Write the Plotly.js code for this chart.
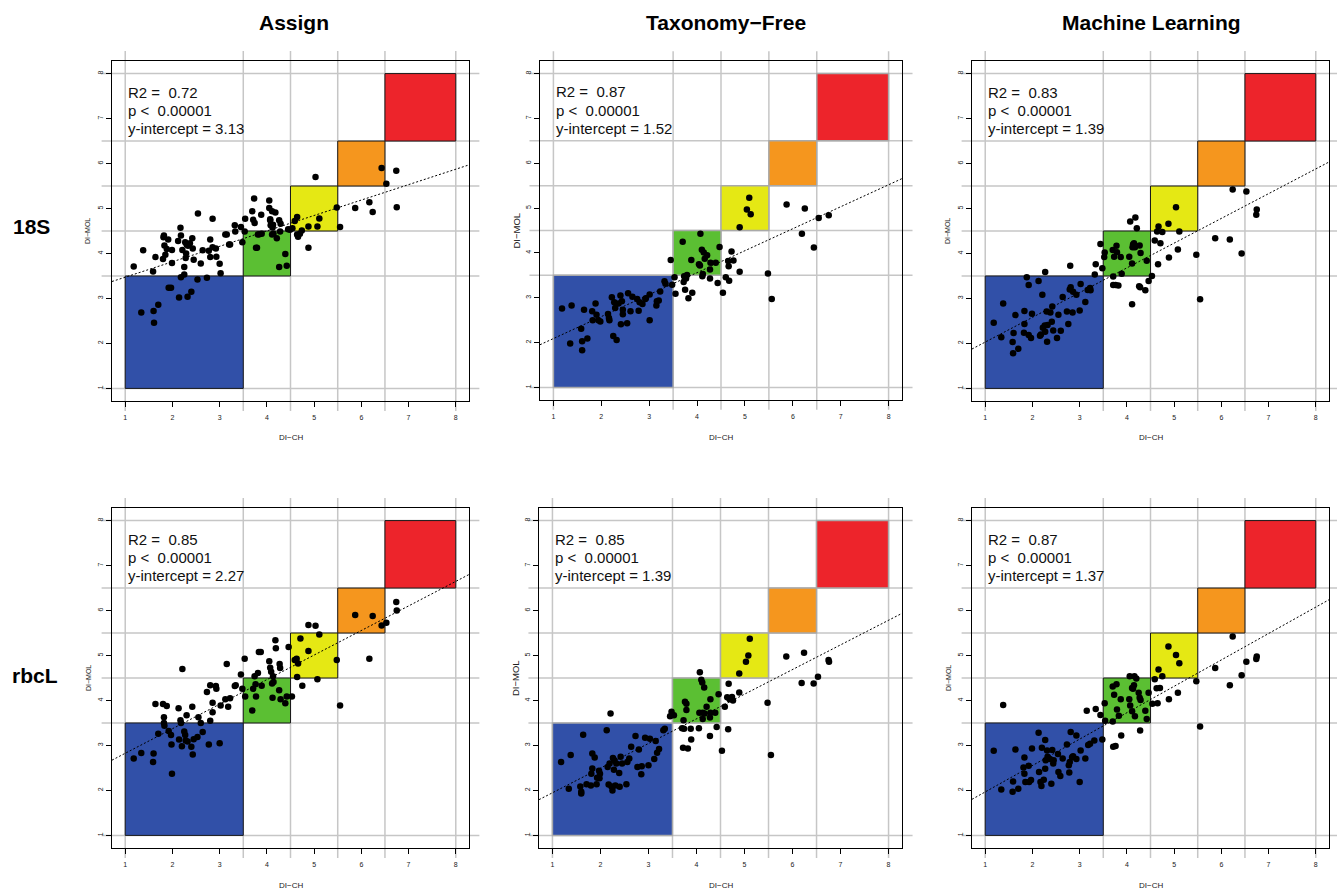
<!DOCTYPE html>
<html><head><meta charset="utf-8">
<script src="https://cdn.plot.ly/plotly-3.0.1.min.js"></script>
<style>html,body{margin:0;padding:0;background:#fff}#chart{width:1337px;height:890px}</style>
</head><body><div id="chart"></div>
<script>
// ---------- data ----------
const METHODS = ['Assign', 'Taxonomy\u2212Free', 'Machine Learning'];
const MARKERS = ['18S', 'rbcL'];
const TICKS = [1, 2, 3, 4, 5, 6, 7, 8];
const GRID_BREAKS = [1, 3.5, 4.5, 5.5, 6.5, 8];
const CLASS_LOW = [1, 3.5, 4.5, 5.5, 6.5];
const CLASS_HIGH = [3.5, 4.5, 5.5, 6.5, 8];
const R2_TEXT = ['0.72', '0.87', '0.83', '0.85', '0.85', '0.87'];
const P_TEXT = ['0.00001', '0.00001', '0.00001', '0.00001', '0.00001', '0.00001'];
const INTERCEPT_TEXT = ['3.13', '1.52', '1.39', '2.27', '1.39', '1.37'];
const FIT_INTERCEPT = [3.13, 1.60, 1.48, 2.28, 1.40, 1.38];
const FIT_SLOPE = [0.343, 0.49, 0.55, 0.546, 0.548, 0.587];

const assign18S = [[1.18,3.71],[1.38,4.07],[1.59,3.60],[1.64,3.92],[1.80,3.88],[1.81,4.36],[1.82,4.40],[1.83,4.18],[1.85,3.97],[1.88,4.10],[1.91,4.31],[1.99,4.08],[1.99,3.79],[2.12,4.28],[2.17,4.57],[2.18,4.40],[2.21,4.08],[2.25,3.70],[2.27,4.25],[2.28,3.90],[2.29,4.00],[2.30,4.20],[2.33,4.17],[2.37,4.23],[2.42,4.34],[2.43,4.11],[2.45,3.86],[2.54,4.89],[2.60,3.78],[2.64,4.07],[2.77,4.06],[2.80,4.31],[2.80,3.92],[2.85,4.77],[2.85,4.14],[2.92,4.11],[2.93,3.93],[3.00,3.77],[3.02,3.56],[3.12,4.42],[3.15,4.42],[3.20,4.20],[3.22,4.20],[3.32,4.63],[3.33,4.49],[3.45,4.59],[3.48,4.25],[3.53,4.49],[3.54,4.77],[2.18,3.47],[2.25,3.53],[2.53,3.42],[2.73,3.46],[1.34,2.69],[1.60,2.72],[1.61,2.46],[1.70,2.86],[1.92,3.24],[1.97,3.24],[2.14,3.02],[2.32,3.04],[2.40,3.15],[3.69,4.94],[3.71,4.75],[3.73,5.22],[3.74,4.68],[3.77,4.13],[3.79,4.13],[3.81,4.42],[3.84,4.43],[3.89,4.44],[3.88,4.86],[4.05,5.18],[4.05,5.01],[4.07,4.76],[4.07,4.74],[4.08,4.63],[4.11,4.94],[4.11,4.42],[4.12,4.58],[4.13,4.64],[4.14,4.44],[4.18,4.91],[4.21,4.34],[4.26,3.70],[4.26,4.74],[4.28,4.49],[4.29,4.66],[4.39,3.99],[4.42,3.73],[4.45,4.54],[4.49,4.53],[4.54,4.56],[4.59,4.72],[4.64,4.81],[4.64,4.42],[4.66,4.37],[4.70,4.44],[4.74,4.51],[4.88,4.13],[4.88,4.60],[5.03,5.70],[5.07,4.60],[5.11,4.78],[5.48,5.02],[5.55,4.59],[5.87,5.01],[6.17,5.14],[6.24,4.92],[6.43,5.90],[6.53,5.55],[6.74,5.84],[6.75,5.03]];

const taxFree18S = [[1.18,2.76],[1.35,1.98],[1.38,2.83],[1.58,2.31],[1.60,2.03],[1.60,1.83],[1.64,2.73],[1.71,2.09],[1.81,2.70],[1.82,2.50],[1.88,2.87],[1.90,2.62],[1.94,2.50],[1.98,2.47],[2.14,2.64],[2.16,2.55],[2.17,2.50],[2.22,3.01],[2.25,2.15],[2.27,2.90],[2.29,2.77],[2.32,2.06],[2.36,2.87],[2.40,3.05],[2.41,2.41],[2.43,2.92],[2.45,2.73],[2.45,2.63],[2.54,2.43],[2.56,3.10],[2.61,2.70],[2.65,3.02],[2.75,2.97],[2.78,2.71],[2.80,2.90],[2.86,2.86],[2.92,2.97],[2.93,2.99],[3.01,3.07],[3.01,2.50],[3.15,2.83],[3.16,2.92],[3.20,2.94],[3.23,3.14],[3.32,3.37],[3.34,3.31],[3.45,3.84],[3.48,3.29],[3.53,3.46],[3.55,3.09],[3.70,4.25],[3.72,3.35],[3.73,3.48],[3.75,3.18],[3.77,3.43],[3.79,3.51],[3.82,2.99],[3.88,3.84],[3.90,3.11],[4.07,4.43],[4.04,3.75],[4.06,3.72],[4.10,4.07],[4.11,3.48],[4.12,3.53],[4.14,4.01],[4.16,3.87],[4.21,3.95],[4.27,3.43],[4.27,3.63],[4.28,3.78],[4.39,3.78],[4.43,3.33],[4.47,4.13],[4.54,3.11],[4.60,3.46],[4.65,3.82],[4.66,3.70],[4.67,3.38],[4.72,4.03],[4.76,3.83],[4.89,3.58],[4.89,4.57],[5.04,4.97],[5.09,5.23],[5.12,4.86],[5.48,3.54],[5.56,2.97],[5.87,5.08],[6.19,4.43],[6.25,4.99],[6.44,4.12],[6.54,4.78],[6.75,4.84]];

const ml18S = [[1.18,2.46],[1.34,2.14],[1.38,2.89],[1.58,2.03],[1.60,2.23],[1.64,2.63],[1.70,1.88],[1.59,1.78],[1.82,2.24],[1.83,2.43],[1.83,2.72],[1.88,3.47],[1.92,3.30],[1.92,2.19],[1.97,2.12],[1.99,2.66],[2.13,3.39],[2.16,2.17],[2.18,2.20],[2.21,3.08],[2.22,2.35],[2.26,2.40],[2.27,2.26],[2.27,3.59],[2.30,2.71],[2.31,2.04],[2.32,2.41],[2.38,2.69],[2.41,2.48],[2.42,2.82],[2.44,2.29],[2.52,2.12],[2.55,2.64],[2.60,2.28],[2.64,3.03],[2.73,2.71],[2.76,2.43],[2.79,3.20],[2.80,3.73],[2.81,3.25],[2.85,2.69],[2.86,3.15],[2.93,3.08],[3.00,2.73],[3.02,3.32],[3.12,2.92],[3.17,3.19],[3.22,3.23],[3.23,3.18],[3.32,3.53],[3.34,3.76],[3.44,4.21],[3.48,3.67],[3.52,3.92],[3.53,4.02],[3.71,3.49],[3.71,3.30],[3.70,4.08],[3.73,3.93],[3.76,3.30],[3.78,4.17],[3.79,4.03],[3.82,3.29],[3.87,3.92],[3.89,3.55],[4.05,3.93],[4.07,4.71],[4.11,2.87],[4.11,3.78],[4.12,4.14],[4.13,4.20],[4.15,4.23],[4.17,4.14],[4.18,4.80],[4.21,4.56],[4.26,3.27],[4.27,4.18],[4.28,3.25],[4.29,4.01],[4.39,3.18],[4.42,3.84],[4.46,3.39],[4.53,3.50],[4.59,4.29],[4.64,4.49],[4.66,3.76],[4.67,4.60],[4.71,4.23],[4.75,4.48],[4.88,4.66],[4.89,3.91],[5.04,5.03],[5.08,4.09],[5.11,4.49],[5.47,3.97],[5.55,2.98],[5.87,4.34],[6.18,4.31],[6.24,5.42],[6.43,4.00],[6.53,5.38],[6.74,4.86],[6.75,4.98]];

const assignRbcL = [[1.18,2.71],[1.34,2.83],[1.60,2.82],[1.59,2.63],[1.64,3.92],[1.70,3.26],[1.80,3.92],[1.82,3.63],[1.82,3.50],[1.83,3.44],[1.88,3.88],[1.92,3.32],[1.97,3.23],[1.98,3.02],[1.99,2.37],[2.13,3.83],[2.14,3.13],[2.17,3.56],[2.18,3.50],[2.20,2.98],[2.21,4.70],[2.25,3.31],[2.27,3.23],[2.28,3.11],[2.30,3.67],[2.32,3.09],[2.40,2.97],[2.42,3.86],[2.43,2.80],[2.45,3.14],[2.53,3.19],[2.55,3.63],[2.60,3.50],[2.64,3.30],[2.73,4.19],[2.77,3.02],[2.80,4.34],[2.80,3.55],[2.85,3.74],[2.85,3.95],[2.92,4.32],[2.93,4.26],[3.00,3.05],[3.02,3.89],[3.12,4.03],[3.15,4.81],[3.18,3.86],[3.22,4.05],[3.32,4.32],[3.34,4.34],[3.45,4.58],[3.48,4.26],[3.53,4.93],[3.54,4.09],[3.69,3.78],[3.71,4.26],[3.74,4.54],[3.76,4.36],[3.77,4.09],[3.81,4.61],[3.83,5.08],[3.87,5.08],[3.89,4.33],[4.05,4.87],[4.07,4.73],[4.09,4.64],[4.11,4.38],[4.12,4.06],[4.13,4.54],[4.14,4.41],[4.18,5.34],[4.19,5.16],[4.26,4.23],[4.27,4.81],[4.28,4.72],[4.29,4.03],[4.39,3.94],[4.42,4.09],[4.46,5.19],[4.53,4.09],[4.59,4.90],[4.63,4.93],[4.64,4.52],[4.66,4.82],[4.71,5.38],[4.75,4.33],[4.88,5.68],[4.88,5.10],[5.03,5.66],[5.07,4.47],[5.11,5.47],[5.48,4.90],[5.55,3.89],[5.87,5.90],[6.17,4.93],[6.24,5.88],[6.43,5.67],[6.53,5.73],[6.74,6.19],[6.75,6.00]];

const taxFreeRbcL = [[1.18,2.63],[1.34,2.04],[1.38,2.79],[1.58,2.09],[1.60,1.97],[1.60,1.93],[1.64,3.24],[1.71,2.14],[1.80,2.11],[1.83,2.49],[1.81,2.37],[1.83,2.82],[1.88,2.73],[1.92,2.14],[1.93,2.28],[1.97,2.44],[1.98,2.27],[1.99,2.37],[2.13,3.34],[2.15,2.52],[2.17,2.13],[2.19,2.60],[2.21,3.71],[2.23,2.09],[2.25,2.00],[2.26,2.72],[2.28,2.46],[2.29,2.67],[2.31,2.11],[2.33,2.60],[2.39,2.39],[2.40,2.08],[2.42,2.75],[2.45,2.60],[2.54,2.14],[2.56,2.63],[2.60,2.71],[2.64,2.97],[2.73,3.21],[2.77,2.52],[2.80,2.91],[2.85,2.36],[2.86,2.54],[2.93,3.17],[3.00,2.56],[3.03,3.15],[3.12,2.70],[3.15,3.10],[3.18,2.84],[3.22,2.92],[3.31,3.34],[3.34,3.37],[3.45,3.65],[3.48,3.75],[3.53,3.67],[3.70,3.38],[3.72,2.95],[3.74,3.37],[3.73,3.56],[3.76,3.97],[3.79,3.93],[3.79,3.79],[3.82,2.93],[3.88,3.37],[3.89,3.13],[4.05,3.38],[4.06,3.73],[4.07,4.63],[4.10,4.46],[4.12,4.40],[4.13,3.73],[4.13,3.59],[4.16,4.29],[4.17,3.71],[4.21,3.86],[4.28,3.62],[4.28,3.21],[4.29,3.73],[4.29,4.03],[4.39,3.73],[4.42,3.41],[4.46,4.14],[4.53,2.88],[4.59,3.86],[4.64,4.07],[4.66,3.36],[4.67,4.37],[4.69,4.03],[4.74,4.08],[4.76,4.00],[4.89,4.18],[4.89,4.60],[5.03,4.86],[5.08,5.00],[5.11,5.37],[5.48,3.95],[5.55,2.79],[5.87,4.98],[6.19,4.39],[6.24,5.06],[6.44,4.38],[6.53,4.53],[6.75,4.90],[6.76,4.86]];

const mlRbcL = [[1.18,2.88],[1.34,2.02],[1.38,3.90],[1.58,1.97],[1.59,2.20],[1.64,2.91],[1.70,2.04],[1.81,2.51],[1.83,2.73],[1.83,2.37],[1.85,2.19],[1.92,2.55],[1.93,2.19],[1.97,2.23],[1.99,2.93],[2.13,3.28],[2.14,2.41],[2.17,2.19],[2.19,2.10],[2.20,2.95],[2.24,2.24],[2.27,3.12],[2.27,2.48],[2.28,2.67],[2.31,2.89],[2.32,2.75],[2.37,2.70],[2.40,2.15],[2.42,2.90],[2.44,2.60],[2.45,2.67],[2.54,2.81],[2.55,2.41],[2.59,2.32],[2.64,2.71],[2.73,3.02],[2.77,2.56],[2.78,2.40],[2.79,2.63],[2.81,3.30],[2.84,2.74],[2.86,2.76],[2.93,3.22],[2.93,2.70],[3.00,2.19],[3.02,2.89],[3.12,2.71],[3.15,3.77],[3.18,3.01],[3.22,3.04],[3.31,3.11],[3.34,3.81],[3.44,3.68],[3.48,3.13],[3.53,3.94],[3.54,3.55],[3.70,3.53],[3.70,4.31],[3.71,2.97],[3.73,4.13],[3.76,2.99],[3.78,4.36],[3.79,3.80],[3.83,3.66],[3.87,4.03],[3.88,3.22],[4.05,4.03],[4.06,4.54],[4.07,3.89],[4.11,4.28],[4.11,3.76],[4.13,4.26],[4.15,4.34],[4.16,4.54],[4.17,3.65],[4.20,4.49],[4.25,4.17],[4.27,4.06],[4.28,3.33],[4.29,4.01],[4.39,3.77],[4.42,3.59],[4.46,4.17],[4.54,3.93],[4.59,4.47],[4.63,4.27],[4.65,3.94],[4.67,4.69],[4.70,4.28],[4.75,4.54],[4.88,5.20],[4.89,4.03],[5.04,5.01],[5.08,4.17],[5.11,4.83],[5.47,4.43],[5.55,3.42],[5.87,4.72],[6.18,4.34],[6.24,5.42],[6.43,4.56],[6.53,4.86],[6.74,4.92],[6.75,4.98]];

const PANEL_DATA = [assign18S, taxFree18S, ml18S, assignRbcL, taxFreeRbcL, mlRbcL];

// ---------- layout / style ----------
const W = 1337, H = 890;
const FRAMES = [[112,469,61,401],[540,902,61,400],[972,1329,61,401],[112,469,508,848],[539,902,508,848],[972,1329,508,848]];
const RANGE = [0.72, 8.28];
const GRID_EXT = [0.5, 8.5];
const BOX_COLORS = ['#3150a8', '#5bbf33', '#e5e814', '#f5961e', '#ed242b'];
const GRID_COLOR = '#c6c6c6';
const FONT = 'Liberation Sans, Arial, Helvetica, sans-serif';
const NARROW = 'Liberation Sans Narrow, Liberation Sans, Arial, sans-serif';
const COL_TITLE_X = [294, 726, 1151];
const ROW_TITLE = [[31, 226], [35, 675]];
const TEXT_Y = [7.59, 7.18, 6.77];

const layout = {
  width: W, height: H, margin: {l:0, r:0, t:0, b:0},
  paper_bgcolor: '#ffffff', plot_bgcolor: 'rgba(0,0,0,0)',
  showlegend: false, font: {family: FONT, color: '#000'},
  shapes: [], annotations: []
};
const traces = [];

FRAMES.forEach((f, i) => {
  const n = i + 1, s = n === 1 ? '' : String(n);
  const xr = 'x' + s, yr = 'y' + s;
  const middle = (i % 3) === 1;
  const common = {
    range: RANGE, tickvals: TICKS, ticktext: TICKS.map(String), ticks: 'outside',
    ticklen: 5, tickwidth: 1, tickcolor: '#000', showline: true, mirror: true,
    linecolor: '#000', linewidth: 1.2, showgrid: false, zeroline: false,
    tickfont: {size: 7, color: '#222', family: NARROW}, fixedrange: true
  };
  layout['xaxis' + s] = Object.assign({}, common, {domain: [f[0]/W, f[1]/W], anchor: yr, ticklabelstandoff: 4});
  layout['yaxis' + s] = Object.assign({}, common, {domain: [1 - f[3]/H, 1 - f[2]/H], anchor: xr, tickangle: -90});

  const fx = v => (f[0] + (v - RANGE[0]) / (RANGE[1] - RANGE[0]) * (f[1] - f[0])) / W;
  const fy = v => 1 - (f[3] - (v - RANGE[0]) / (RANGE[1] - RANGE[0]) * (f[3] - f[2])) / H;

  // extended reference grid (drawn past the frame, like the original)
  GRID_BREAKS.forEach(g => {
    layout.shapes.push({type:'line', xref:'paper', yref:'paper', layer:'below',
      x0: fx(g), x1: fx(g), y0: fy(GRID_EXT[0]), y1: fy(GRID_EXT[1]),
      line: {color: GRID_COLOR, width: 1.5}});
    layout.shapes.push({type:'line', xref:'paper', yref:'paper', layer:'below',
      x0: fx(GRID_EXT[0]), x1: fx(GRID_EXT[1]), y0: fy(g), y1: fy(g),
      line: {color: GRID_COLOR, width: 1.5}});
  });

  // classification boxes
  CLASS_LOW.forEach((lo, k) => {
    layout.shapes.push({type:'rect', xref: xr, yref: yr, layer:'below',
      x0: lo, x1: CLASS_HIGH[k], y0: lo, y1: CLASS_HIGH[k],
      fillcolor: BOX_COLORS[k],
      line: middle ? {color: '#a9a9a9', width: 1.5} : {color: '#1a1a1a', width: 1}});
  });

  // regression line
  traces.push({type:'scatter', mode:'lines', xaxis: xr, yaxis: yr, hoverinfo:'skip',
    x: RANGE.slice(), y: RANGE.map(v => FIT_INTERCEPT[i] + FIT_SLOPE[i] * v),
    line: {color:'#000', width: 1, dash: '2px,2px'}});

  // points
  const pts = PANEL_DATA[i];
  traces.push({type:'scatter', mode:'markers', xaxis: xr, yaxis: yr,
    x: pts.map(p => p[0]), y: pts.map(p => p[1]),
    marker: {color:'#000', size: 6.5, line: {width: 0}}});

  // stats text
  const lines = ['R2 = \u00a0' + R2_TEXT[i], 'p < \u00a0' + P_TEXT[i], 'y-intercept = ' + INTERCEPT_TEXT[i]];
  lines.forEach((t, k) => {
    layout.annotations.push({xref: xr, yref: yr, x: 1.02, y: TEXT_Y[k], text: t,
      xanchor: 'left', yanchor: 'middle', showarrow: false,
      font: {size: 15, family: FONT, color: '#111'}});
  });

  // axis titles
  layout.annotations.push({xref: xr + ' domain', yref: yr + ' domain', x: 0.5, y: 0, yshift: -37,
    text: 'DI\u2212CH', showarrow: false, xanchor: 'center', yanchor: 'middle',
    font: {size: 8, family: NARROW, color: '#222'}});
  layout.annotations.push({xref: xr + ' domain', yref: yr + ' domain', x: 0, y: 0.5, xshift: -24,
    text: 'DI\u2212MOL', textangle: -90, showarrow: false, xanchor: 'center', yanchor: 'middle',
    font: {size: middle ? 9.5 : 7, family: NARROW, color: '#222'}});
});

METHODS.forEach((m, j) => {
  layout.annotations.push({xref:'paper', yref:'paper', x: COL_TITLE_X[j]/W, y: 1 - 22/H, text: '<b>' + m + '</b>',
    showarrow: false, xanchor:'center', yanchor:'middle', font: {size: 21, family: FONT, color:'#000'}});
});
MARKERS.forEach((m, j) => {
  layout.annotations.push({xref:'paper', yref:'paper', x: ROW_TITLE[j][0]/W, y: 1 - ROW_TITLE[j][1]/H, text: '<b>' + m + '</b>',
    showarrow: false, xanchor:'center', yanchor:'middle', font: {size: 21, family: FONT, color:'#000'}});
});

Plotly.newPlot('chart', traces, layout, {staticPlot: true, displayModeBar: false});
</script>
</body></html>
